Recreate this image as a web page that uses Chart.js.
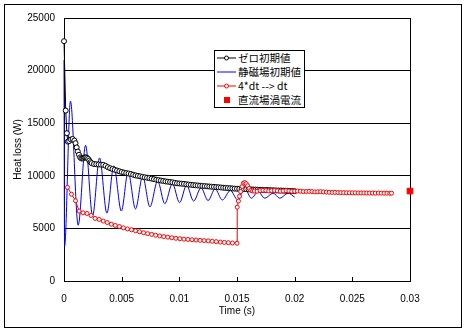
<!DOCTYPE html>
<html>
<head>
<meta charset="utf-8">
<script src="https://cdn.jsdelivr.net/npm/chart.js@4/dist/chart.umd.min.js"></script>
<style>
  body { margin: 0; background: #fff; }
  #wrap { position: relative; width: 465px; height: 330px; }
  canvas { display: block; }
  #legend {
    position: absolute; left: 214px; top: 50px; width: 89px;
    background: #fff; border: 1px solid #000;
    font: 10.5px "Noto Sans CJK JP", sans-serif; color: #000;
  }
  #legend .row { height: 14px; line-height: 14px; display: flex; align-items: center; white-space: nowrap; }
  #legend svg { flex: none; }
</style>
</head>
<body>
<div id="wrap">
  <canvas id="chart" width="465" height="330"></canvas>
  <div id="legend"></div>
</div>
<script>
// series names (legend order)
const seriesNames = ['ゼロ初期値', '静磁場初期値', '4*dt --> dt', '直流場渦電流'];

// [time (s), heat loss (W)]
const zeroInit = [
  [0, 22800], [0.00015, 16200], [0.00025, 14050], [0.00033, 13250], [0.00045, 13300],
  [0.0006, 13450], [0.00075, 13500], [0.0009, 13350], [0.001, 13100], [0.0011, 12700],
  [0.0012, 12300], [0.0013, 12000], [0.0014, 11750], [0.0015, 11650], [0.0016, 11650],
  [0.0017, 11700], [0.0018, 11750], [0.0019, 11750], [0.002, 11700], [0.0021, 11600],
  [0.0022, 11450], [0.0023, 11300], [0.0024, 11200], [0.0026, 11120], [0.0028, 11100],
  [0.003, 11080], [0.0032, 11060], [0.0034, 11040], [0.0036, 10950], [0.0038, 10820],
  [0.004, 10720], [0.0042, 10640], [0.0044, 10570], [0.0046, 10500], [0.0048, 10430],
  [0.005, 10360], [0.0052, 10310], [0.0054, 10260], [0.0056, 10220], [0.0058, 10170],
  [0.006, 10100], [0.0062, 10040], [0.0064, 9990], [0.0066, 9950], [0.0068, 9900],
  [0.007, 9860], [0.0072, 9820], [0.0074, 9780], [0.0076, 9730], [0.0078, 9680],
  [0.008, 9630], [0.0082, 9590], [0.0084, 9550], [0.0086, 9510], [0.0088, 9470],
  [0.009, 9440], [0.0092, 9410], [0.0094, 9380], [0.0096, 9330], [0.0098, 9290],
  [0.01, 9270], [0.0102, 9250], [0.0104, 9230], [0.0106, 9200], [0.0108, 9170],
  [0.011, 9150], [0.0112, 9120], [0.0114, 9100], [0.0116, 9080], [0.0118, 9060],
  [0.012, 9040], [0.0122, 9020], [0.0124, 9000], [0.0126, 8980], [0.0128, 8960],
  [0.013, 8950], [0.0132, 8930], [0.0134, 8910], [0.0136, 8890], [0.0138, 8870],
  [0.014, 8850], [0.0142, 8830], [0.0144, 8820], [0.0146, 8800], [0.0148, 8780],
  [0.015, 8770], [0.0152, 8760], [0.0154, 8750], [0.0156, 8740], [0.0158, 8730],
  [0.016, 8720], [0.0162, 8710], [0.0164, 8700], [0.0166, 8690], [0.0168, 8680],
  [0.017, 8670], [0.0172, 8660], [0.0174, 8650], [0.0176, 8650], [0.0178, 8640],
  [0.018, 8630], [0.0182, 8620], [0.0184, 8610], [0.0186, 8600], [0.0188, 8600],
  [0.019, 8590], [0.0192, 8580], [0.0194, 8570], [0.0196, 8560], [0.0198, 8550],
  [0.02, 8540]
];

const staticInit = [
  [0, 21000], [0.00005, 3300], [0.00056, 17100], [0.00123, 5300], [0.00187, 12900],
  [0.00248, 6200], [0.00308, 11700], [0.00372, 6450], [0.00432, 10950], [0.00497, 6650],
  [0.00556, 10350], [0.0062, 6850], [0.00682, 9950], [0.00745, 7050], [0.00812, 9500],
  [0.00874, 7350], [0.0094, 9250], [0.01002, 7450], [0.01063, 9100], [0.01124, 7600],
  [0.01188, 8850], [0.01249, 7650], [0.0131, 8750], [0.01373, 7700], [0.01443, 8600],
  [0.01505, 7720], [0.01567, 8800], [0.01625, 7870], [0.01683, 8500], [0.01741, 7870],
  [0.01813, 8350], [0.01871, 7870], [0.01943, 8350], [0.02, 7970]
];

const stepChange = [
  [0.0003, 8900], [0.00065, 8250], [0.001, 7630], [0.00131, 6650], [0.00165, 6480],
  [0.002, 6420], [0.00235, 6230], [0.0027, 5950], [0.00305, 5850], [0.0034, 5700],
  [0.00375, 5560], [0.0041, 5400], [0.00445, 5280], [0.0048, 5180], [0.00515, 5050],
  [0.0055, 4950], [0.00585, 4870], [0.0062, 4780], [0.00655, 4680], [0.0069, 4590],
  [0.00725, 4500], [0.0076, 4430], [0.00795, 4350], [0.0083, 4280], [0.00865, 4220],
  [0.009, 4170], [0.00935, 4110], [0.0097, 4060], [0.01005, 4020], [0.0104, 3980],
  [0.01075, 3950], [0.0111, 3920], [0.01145, 3890], [0.0118, 3870], [0.01215, 3840],
  [0.0125, 3810], [0.01285, 3780], [0.0132, 3740], [0.01355, 3700], [0.0139, 3670],
  [0.01425, 3640], [0.0146, 3610], [0.015, 3590], [0.01502, 7020], [0.01512, 7600],
  [0.01522, 8050], [0.01532, 8500], [0.01544, 8980], [0.01556, 9300], [0.01568, 9350],
  [0.0158, 9250], [0.01592, 9050], [0.01605, 8800], [0.0162, 8620], [0.01635, 8560],
  [0.0165, 8550], [0.01675, 8530], [0.017, 8600], [0.01725, 8620], [0.0175, 8600],
  [0.01775, 8560], [0.018, 8590], [0.01825, 8610], [0.0185, 8580], [0.01875, 8540],
  [0.019, 8560], [0.01925, 8580], [0.0195, 8560], [0.01975, 8530], [0.02, 8540],
  [0.02025, 8550], [0.0205, 8530], [0.02075, 8500], [0.021, 8510], [0.02125, 8520],
  [0.0215, 8500], [0.02175, 8470], [0.022, 8480], [0.02225, 8490], [0.0225, 8470],
  [0.02275, 8450], [0.023, 8430], [0.02325, 8420], [0.0235, 8420], [0.02375, 8410],
  [0.024, 8400], [0.02425, 8400], [0.0245, 8390], [0.02475, 8390], [0.025, 8380],
  [0.02525, 8380], [0.0255, 8370], [0.02575, 8370], [0.026, 8370], [0.02625, 8360],
  [0.0265, 8360], [0.02675, 8360], [0.027, 8350], [0.02725, 8360], [0.0275, 8350],
  [0.02775, 8350], [0.028, 8350], [0.02825, 8340], [0.0284, 8350]
];

const dcEddy = [[0.03, 8550]];

// axis ticks
const xTickValues = [0, 0.005, 0.01, 0.015, 0.02, 0.025, 0.03];
const xTickLabels = ['0', '0.005', '0.01', '0.015', '0.02', '0.025', '0.03'];
const yTickValues = [0, 5000, 10000, 15000, 20000, 25000];
const yTickLabels = ['0', '5000', '10000', '15000', '20000', '25000'];

const toXY = rows => rows.map(r => ({ x: r[0], y: r[1] }));
const font = { family: 'Liberation Sans', size: 10 };

// outer frame, plot box and inward x tick marks
const framePlugin = {
  id: 'frame',
  beforeDraw(chart) {
    const c = chart.ctx;
    c.save();
    c.fillStyle = '#fff';
    c.fillRect(0, 0, chart.width, chart.height);
    c.strokeStyle = '#000';
    c.lineWidth = 1;
    c.strokeRect(4.5, 4.5, 457, 323);
    c.restore();
  },
  beforeDatasetsDraw(chart) {
    const c = chart.ctx, a = chart.chartArea, xs = chart.scales.x;
    c.save();
    c.strokeStyle = '#000';
    c.lineWidth = 1;
    c.strokeRect(a.left + 0.5, a.top + 0.5, a.right - a.left, a.bottom - a.top);
    c.beginPath();
    xTickValues.forEach(v => {
      const px = Math.round(xs.getPixelForValue(v)) + 0.5;
      c.moveTo(px, a.bottom);
      c.lineTo(px, a.bottom - 4);
    });
    c.stroke();
    c.restore();
  }
};

new Chart(document.getElementById('chart'), {
  type: 'scatter',
  data: {
    datasets: [
      {
        label: seriesNames[0], data: toXY(zeroInit), showLine: true, order: 2, clip: false,
        borderColor: '#000', borderWidth: 1,
        pointRadius: 2.5, pointBorderWidth: 1, pointBorderColor: '#000', pointBackgroundColor: '#fff'
      },
      {
        label: seriesNames[1], data: toXY(staticInit), showLine: true, order: 3, clip: false,
        borderColor: '#0000ff', borderWidth: 1, pointRadius: 0,
        tension: 0.4, cubicInterpolationMode: 'monotone'
      },
      {
        label: seriesNames[2], data: toXY(stepChange), showLine: true, order: 1, clip: false,
        borderColor: '#ff0000', borderWidth: 1,
        pointRadius: 2, pointBorderWidth: 1, pointBorderColor: '#ff0000', pointBackgroundColor: '#fff'
      },
      {
        label: seriesNames[3], data: toXY(dcEddy), showLine: false, order: 0, clip: false,
        pointStyle: 'rect', pointRadius: 4, pointBorderWidth: 1,
        pointBorderColor: '#ff0000', pointBackgroundColor: '#ff0000'
      }
    ]
  },
  options: {
    responsive: false,
    animation: false,
    devicePixelRatio: 1,
    layout: { padding: { left: 0, right: 55, top: 18, bottom: 0 } },
    plugins: {
      legend: { display: false },
      tooltip: { enabled: false }
    },
    scales: {
      x: {
        type: 'linear', min: 0, max: 0.03,
        afterBuildTicks: s => { s.ticks = xTickValues.map(v => ({ value: v })); },
        afterFit: s => { s.height = 49; },
        ticks: {
          callback: (v, i) => xTickLabels[i],
          font: font, color: '#000', padding: 4, maxRotation: 0, autoSkip: false
        },
        grid: { display: false },
        border: { display: true, color: '#000' },
        title: {
          display: true, text: 'Time (s)', font: font, color: '#000',
          padding: { top: 0, bottom: 13 }
        }
      },
      y: {
        min: 0, max: 25000,
        afterBuildTicks: s => { s.ticks = yTickValues.map(v => ({ value: v })); },
        afterFit: s => { s.width = 64; },
        ticks: {
          callback: (v, i) => yTickLabels[i],
          font: font, color: '#000', padding: 9
        },
        grid: { color: '#000', lineWidth: 1, drawTicks: false },
        border: { display: true, color: '#000' },
        title: {
          display: true, text: 'Heat loss (W)', font: font, color: '#000',
          padding: { top: 12, bottom: 0 }
        }
      }
    }
  },
  plugins: [framePlugin]
});

// legend box (HTML so the text stays real text)
const samples = [
  '<line x1="2" y1="7" x2="21" y2="7" stroke="#000"/><circle cx="11.5" cy="7" r="2" fill="#fff" stroke="#000"/>',
  '<line x1="2" y1="7" x2="21" y2="7" stroke="#0000ff"/>',
  '<line x1="2" y1="7" x2="21" y2="7" stroke="#ff0000"/><circle cx="11.5" cy="7" r="2" fill="#fff" stroke="#ff0000"/>',
  '<rect x="9" y="4" width="6" height="6" fill="#ff0000"/>'
];
document.getElementById('legend').innerHTML = seriesNames.map((name, i) =>
  '<div class="row"><svg width="23" height="14">' + samples[i] + '</svg><span>' + name + '</span></div>'
).join('');
</script>
</body>
</html>
